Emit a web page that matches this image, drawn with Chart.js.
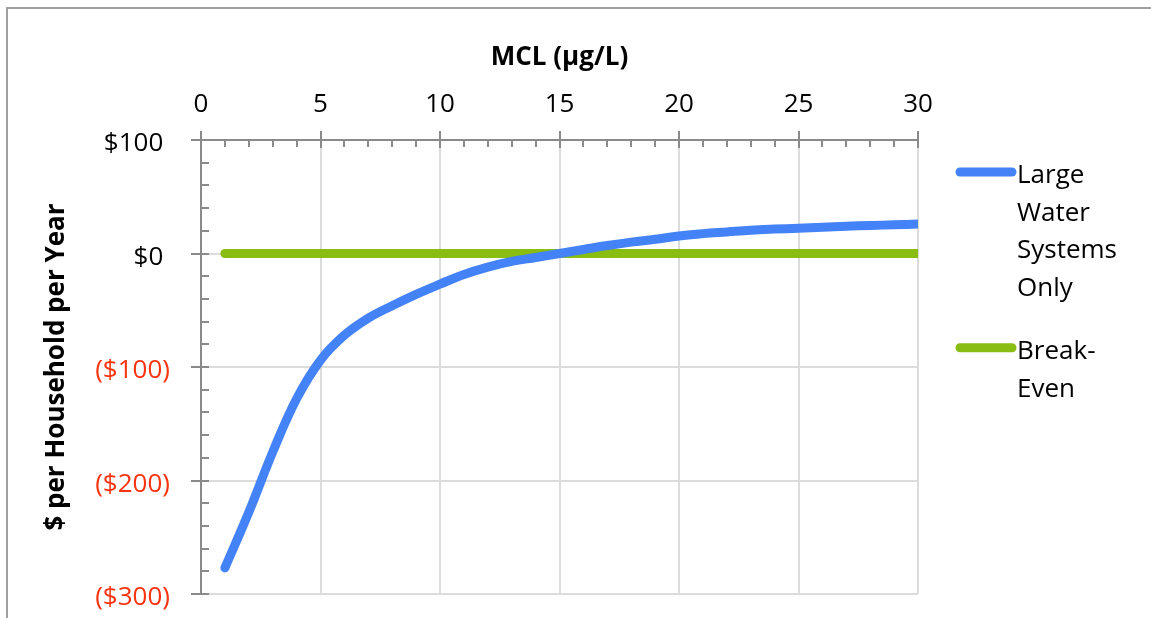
<!DOCTYPE html>
<html>
<head>
<meta charset="utf-8">
<script src="https://cdn.jsdelivr.net/npm/chart.js@4"></script>
<style>
body{margin:0;background:#fff}
canvas{display:block}
</style>
</head>
<body>
<canvas id="myChart" width="1151" height="618"></canvas>
<script>
// data
var mcl = [1,2,3,4,5,6,7,8,9,10,11,12,13,14,15,16,17,18,19,20,21,22,23,24,25,26,27,28,29,30];
var largeSystems = [-277,-228,-175,-128,-94,-72,-57,-46,-36,-27,-18.5,-12,-7,-3.5,0,3.5,7,10,12.5,15.5,17.5,19,20.5,21.5,22.3,23.2,24,24.7,25.3,26];
var breakEvenX = [1,30];
var breakEven = [0,0];
var seriesNames = ["Large Water Systems Only","Break-Even"];
var xTitle = "MCL (µg/L)";
var yTitle = "$ per Household per Year";
var xMin = 0, xMax = 30, xStep = 5;
var yMin = -300, yMax = 100, yStep = 100;

Chart.defaults.font.family = "'Open Sans', sans-serif";
Chart.defaults.color = "#000";

function pts(xs, ys){
  return xs.map(function(x,i){ return {x:x, y:ys[i]}; });
}

function money(v){
  if(v < 0) return "($" + (-v) + ")";
  return "$" + v + " ";
}

// frame, axis tick marks, legend
var extras = {
  id: "extras",
  beforeDraw: function(chart){
    var c = chart.ctx;
    c.save();
    c.strokeStyle = "#a0a0a0";
    c.lineWidth = 2;
    c.beginPath();
    c.moveTo(7, 618); c.lineTo(7, 8); c.lineTo(1151, 8);
    c.stroke();
    c.restore();
  },
  beforeDatasetsDraw: function(chart){
    var c = chart.ctx, xs = chart.scales.x, ys = chart.scales.y, a = chart.chartArea;
    c.save();
    c.strokeStyle = "#8a8a8a";
    c.lineWidth = 2;
    c.beginPath();
    for(var v = xMin; v <= xMax; v++){
      var px = Math.round(xs.getPixelForValue(v));
      if(v % xStep == 0){ c.moveTo(px, a.top - 9); c.lineTo(px, a.top + 8); }
      else { c.moveTo(px, a.top); c.lineTo(px, a.top + 7); }
    }
    for(var w = yMin; w <= yMax; w += 20){
      var py = Math.round(ys.getPixelForValue(w));
      if(w % yStep == 0){ c.moveTo(a.left - 10, py); c.lineTo(a.left + 8, py); }
      else { c.moveTo(a.left, py); c.lineTo(a.left + 8, py); }
    }
    c.stroke();
    c.restore();
  },
  afterDraw: function(chart){
    var c = chart.ctx;
    c.save();
    c.font = "26px 'Open Sans', sans-serif";
    c.fillStyle = "#000";
    c.textBaseline = "alphabetic";
    var y = 183;
    chart.data.datasets.forEach(function(ds){
      var parts = ds.label.split(/(?<=-)|\s+/);
      var lines = [], cur = "";
      parts.forEach(function(p){
        var sep = (cur && !cur.endsWith("-")) ? " " : "";
        var test = cur ? cur + sep + p : p;
        if(cur && c.measureText(test).width > 125){ lines.push(cur); cur = p; }
        else cur = test;
      });
      if(cur) lines.push(cur);
      c.strokeStyle = ds.borderColor;
      c.lineWidth = 9;
      c.lineCap = "round";
      c.beginPath();
      c.moveTo(960, y - 11); c.lineTo(1012, y - 11);
      c.stroke();
      lines.forEach(function(l, i){ c.fillText(l, 1017, y + i * 37.7); });
      y += lines.length * 37.7 + 25;
    });
    c.restore();
  }
};

var ctx = document.querySelector("#myChart").getContext("2d");
new Chart(ctx, {
  type: "line",
  data: {
    datasets: [{
      label: seriesNames[0],
      data: pts(mcl, largeSystems),
      borderColor: "#4482f7",
      backgroundColor: "#4482f7",
      borderWidth: 9,
      borderCapStyle: "round",
      borderJoinStyle: "round",
      pointRadius: 0,
      tension: 0.4
    },{
      label: seriesNames[1],
      data: pts(breakEvenX, breakEven),
      borderColor: "#8abd12",
      backgroundColor: "#8abd12",
      borderWidth: 9,
      borderCapStyle: "round",
      pointRadius: 0
    }]
  },
  options: {
    responsive: false,
    animation: false,
    layout: { padding: { left: 41, top: 42, right: 233, bottom: 24 } },
    plugins: { legend: { display: false }, tooltip: { enabled: false } },
    scales: {
      x: {
        type: "linear",
        position: "top",
        min: xMin, max: xMax,
        ticks: { stepSize: xStep, font: { size: 26 }, padding: 20, color: "#000" },
        grid: { color: "#dcdcdc", lineWidth: 2, drawTicks: false },
        border: { color: "#8a8a8a", width: 2 },
        title: { display: true, text: xTitle, font: { size: 26, weight: "bold" }, padding: 0, color: "#000" },
        afterFit: function(s){ s.height = 98; s.paddingLeft = 0; s.paddingRight = 0; }
      },
      y: {
        min: yMin, max: yMax,
        ticks: {
          stepSize: yStep,
          font: { size: 26 },
          padding: 31,
          labelOffset: 4,
          callback: function(v){ return money(v); },
          color: function(c){ return c.tick && c.tick.value < 0 ? "#f8330f" : "#000"; }
        },
        grid: { color: "#dcdcdc", lineWidth: 2, drawTicks: false },
        border: { color: "#8a8a8a", width: 2 },
        title: { display: true, text: yTitle, font: { size: 26, weight: "bold" }, padding: 0, color: "#000" },
        afterFit: function(s){ s.width = 160; s.paddingTop = 0; s.paddingBottom = 0; }
      }
    }
  },
  plugins: [extras]
});
</script>
</body>
</html>
